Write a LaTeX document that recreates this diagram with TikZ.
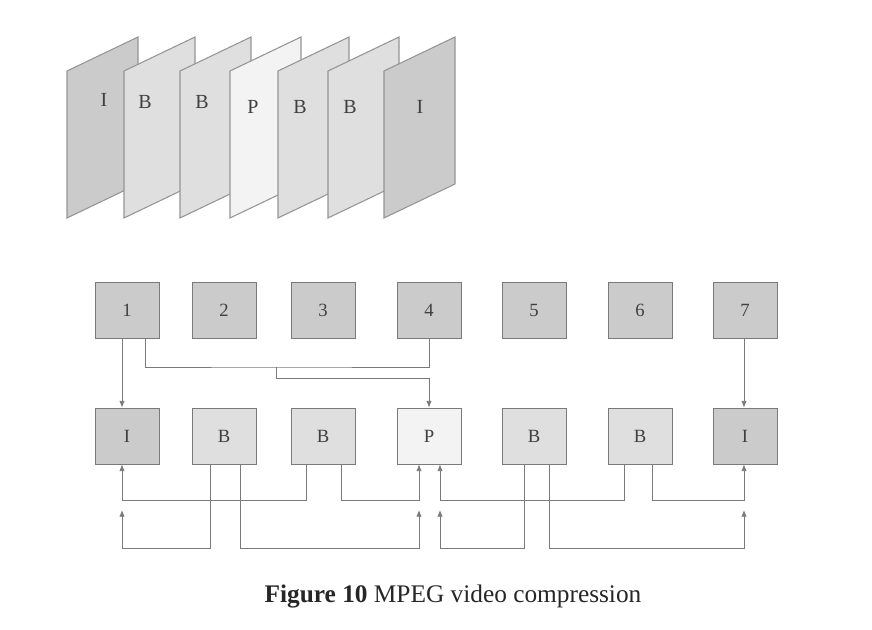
\documentclass[tikz,border=0pt]{standalone}
\usepackage{fontspec}
\setmainfont{Liberation Serif}
\usetikzlibrary{arrows.meta}
\definecolor{ci}{HTML}{CBCBCB}
\definecolor{cb}{HTML}{DFDFDF}
\definecolor{cp}{HTML}{F3F3F3}
\definecolor{ln}{HTML}{7A7A7A}
\begin{document}
\begin{tikzpicture}[x=0.75pt,y=-0.75pt,
  panel/.style={draw=ln!80,line width=0.8pt},
  box/.style={draw=ln,line width=0.6pt,minimum width=48pt,minimum height=42pt,inner sep=0pt,font=\fontsize{14}{14}\selectfont,text=black!75},
  con/.style={draw=ln,line width=0.6pt},
  arr/.style={con,-{Latex[length=5pt,width=4pt]}}]
\useasboundingbox (0,0) rectangle (872,630);
% panels
\foreach \x/\c/\l/\lx/\ly in {67/ci/I/104/100,124/cb/B/145/102,180/cb/B/202/102,230/cp/P/253/107,278/cb/B/300/107,328/cb/B/350/107,384/ci/I/420/107}{
  \fill[\c,draw=ln!80,line width=0.8pt] (\x,71) -- (\x+71,37) -- (\x+71,184) -- (\x,218) -- cycle;
  \node[font=\fontsize{15}{15}\selectfont,text=black!75] at (\lx,\ly) {\l};
}
% top row
\foreach \i/\x in {1/127,2/224,3/323,4/429,5/534,6/640,7/745}
  \node[box,fill=ci] (t\i) at (\x,310) {\i};
\node[box,fill=ci] (b1) at (127,436) {I};
\node[box,fill=cb] (b2) at (224,436) {B};
\node[box,fill=cb] (b3) at (323,436) {B};
\node[box,fill=cp] (b4) at (429,436) {P};
\node[box,fill=cb] (b5) at (534,436) {B};
\node[box,fill=cb] (b6) at (640,436) {B};
\node[box,fill=ci] (b7) at (745,436) {I};
\coordinate (j) at (276,367);
% top connectors
\draw[arr] (t1.south -| 122,0) -- (b1.north -| 122,0);
\draw[con] (t1.south -| 145,0) |- (j) -| (t4.south);
\draw[arr] (j) |- (429,378) -- (b4.north);
\draw[arr] (t7.south -| 744,0) -- (b7.north -| 744,0);
% lower connectors level 1
\draw[arr] (b3.south -| 306,0) |- (122,500) -- (b1.south -| 122,0);
\draw[arr] (b3.south -| 341,0) |- (419,500) -- (b4.south -| 419,0);
\draw[arr] (b6.south -| 624,0) |- (440,500) -- (b4.south -| 440,0);
\draw[arr] (b6.south -| 652,0) |- (744,500) -- (b7.south -| 744,0);
% level 2
\draw[arr] (b2.south -| 210,0) |- (122,548) -- (122,510);
\draw[arr] (b2.south -| 240,0) |- (419,548) -- (419,510);
\draw[arr] (b5.south -| 524,0) |- (440,548) -- (440,510);
\draw[arr] (b5.south -| 549,0) |- (744,548) -- (744,510);
\node[font=\fontsize{19}{19}\selectfont,text=black!85] (cap) at (453,597) {\textbf{Figure 10} MPEG video compression};
\end{tikzpicture}
\end{document}
